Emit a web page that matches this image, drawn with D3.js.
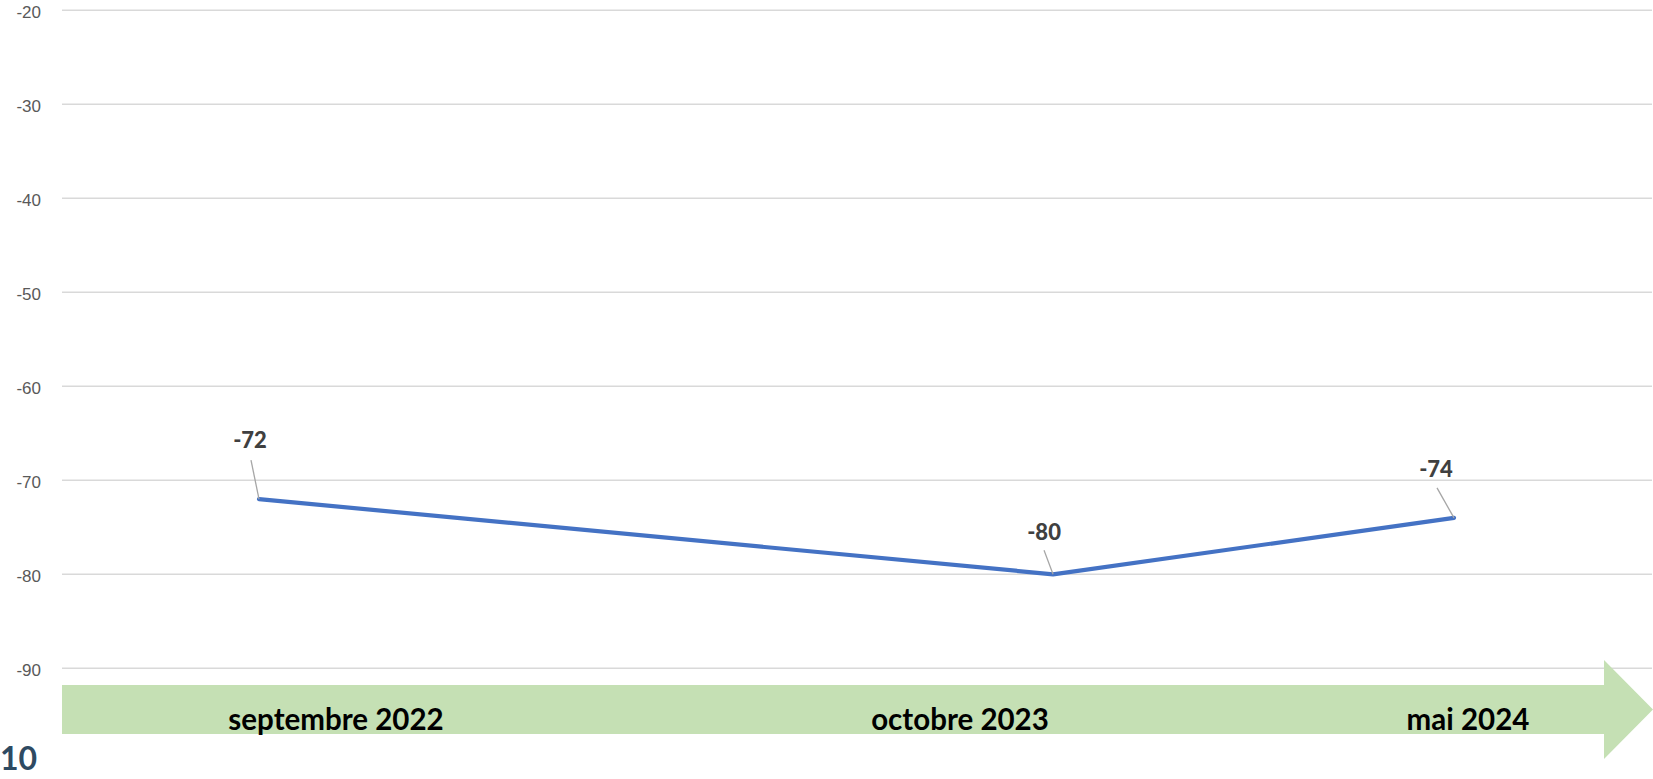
<!DOCTYPE html>
<html><head><meta charset="utf-8">
<script src="https://cdn.jsdelivr.net/npm/d3@7"></script>
<style>html,body{margin:0;padding:0;background:#fff;}svg{display:block;}</style>
</head><body>
<svg id="chart" width="1653" height="779"></svg>
<script>
const categories = ["septembre 2022", "octobre 2023", "mai 2024"];
const dates = ["2022-09-01", "2023-10-10", "2024-05-01"];
const values = [-72, -80, -74];
const yTicks = [-20, -30, -40, -50, -60, -70, -80, -90];
const pageNumber = "10";

const fmt = v => String(v); // hyphen-minus as in reference
const svg = d3.select("#chart");
const parse = d3.timeParse("%Y-%m-%d");
const data = dates.map((d, i) => ({date: parse(d), value: values[i], cat: categories[i]}));

const x = d3.scaleTime().domain([parse(dates[0]), parse(dates[2])]).range([259, 1454]);
const y = d3.scaleLinear().domain([-90, -20]).range([668.3, 10.3]);

// y axis labels
const yAxis = d3.axisLeft(y).tickValues(yTicks).tickSize(0).tickPadding(0).tickFormat(fmt);
const ga = svg.append("g").attr("transform", "translate(41,0)").call(yAxis);
ga.select(".domain").remove();
ga.selectAll("text").attr("font-family", "Liberation Sans, Arial, sans-serif").attr("font-size", 17)
  .attr("fill", "#595959").attr("dy", "0.4em").attr("x", 0);
// gridlines
svg.append("g").selectAll("line").data(yTicks).join("line")
  .attr("x1", 62).attr("x2", 1652).attr("y1", d => y(d)).attr("y2", d => y(d))
  .attr("stroke", "#D9D9D9").attr("stroke-width", 1.5);

// arrow
const arrow = d3.path();
arrow.moveTo(62, 685); arrow.lineTo(1604, 685); arrow.lineTo(1604, 660);
arrow.lineTo(1653, 709.5); arrow.lineTo(1604, 759); arrow.lineTo(1604, 734);
arrow.lineTo(62, 734); arrow.closePath();
svg.append("path").attr("d", arrow.toString()).attr("fill", "#C5E0B4");

const catX = [336, 960, 1468];
svg.append("g").selectAll("text").data(categories).join("text")
  .attr("x", (d, i) => catX[i]).attr("y", 730).attr("text-anchor", "middle")
  .attr("font-family", "Lato, sans-serif").attr("font-weight", "bold").attr("font-size", 29.5)
  .attr("fill", "#000").text(d => d);

// line
svg.append("path").datum(data)
  .attr("d", d3.line().x(d => x(d.date)).y(d => y(d.value)))
  .attr("fill", "none").attr("stroke", "#4472C4").attr("stroke-width", 4.2)
  .attr("stroke-linejoin", "round").attr("stroke-linecap", "round");

// data labels with leader lines
const labelOff = [[-9, -51], [-9, -34], [-18, -41]];
const leaderStart = [[-8, -39], [-9, -24], [-17, -30]];
const lg = svg.append("g");
data.forEach((d, i) => {
  const px = x(d.date), py = y(d.value);
  lg.append("line").attr("x1", px + leaderStart[i][0]).attr("y1", py + leaderStart[i][1])
    .attr("x2", px).attr("y2", py).attr("stroke", "#A6A6A6").attr("stroke-width", 1.3);
  lg.append("text").attr("x", px + labelOff[i][0]).attr("y", py + labelOff[i][1])
    .attr("text-anchor", "middle").attr("font-family", "Lato, sans-serif")
    .attr("font-weight", 900).attr("font-size", 22).attr("fill", "#404040")
    .text(fmt(d.value));
});

svg.append("text").attr("x", 0).attr("y", 770).attr("font-family", "Lato, sans-serif")
  .attr("font-weight", "bold").attr("font-size", 32).attr("fill", "#2E4A62").text(pageNumber);
</script>
</body></html>
